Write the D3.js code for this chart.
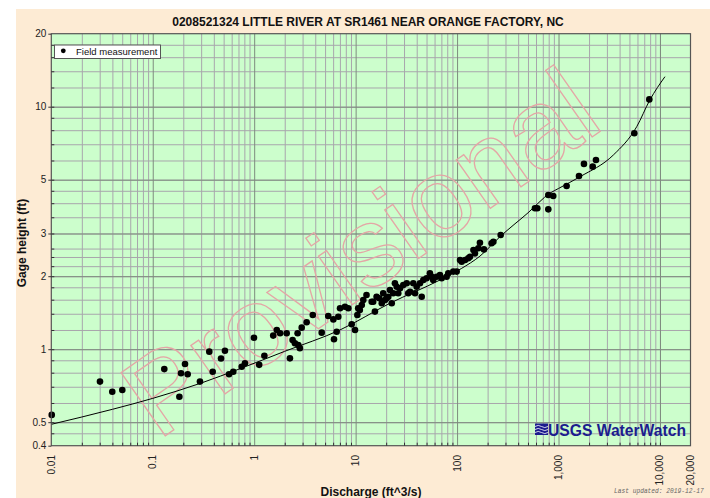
<!doctype html>
<html>
<head>
<meta charset="utf-8">
<title>Little River rating</title>
<script src="https://d3js.org/d3.v7.min.js"></script>
<style>
body { margin: 0; background: #fff; }
text { font-family: "Liberation Sans", Arial, sans-serif; }
</style>
</head>
<body>
<svg width="710" height="498"></svg>
<script>
// field measurements, discharge (ft^3/s) and gage height (ft)
var discharge = [0.0101, 0.0302, 0.0399, 0.0501, 0.13, 0.183, 0.19, 0.208, 0.221, 0.292,
    0.361, 0.39, 0.471, 0.515, 0.565, 0.622, 0.753, 0.811, 0.995, 1.12,
    1.26, 1.54, 1.67, 1.8, 2.09, 2.25, 2.39, 2.52, 2.68, 2.72,
    2.82, 2.94, 3.29, 3.78, 4.63, 5.37, 6.03, 6.5, 6.12, 6.75,
    7.02, 7.85, 8.47, 9.14, 9.86, 10.6, 10.4, 11.0, 11.5, 11.9,
    12.8, 14.4, 14.9, 15.5, 16.1, 17.1, 18.1, 18.7, 19.5, 20.2,
    21.0, 21.8, 22.7, 23.5, 24.4, 25.4, 26.3, 27.4, 29.5, 31.9,
    33.0, 34.4, 37.0, 38.5, 40, 43.1, 44.8, 46.5, 50.1, 54.0,
    56.2, 58.2, 63.0, 67.8, 70.5, 78.9, 81.9, 91.8, 99.1, 107,
    111, 120, 129, 134, 145, 150, 162, 168, 184, 219,
    228, 269, 586, 618, 793, 887, 793, 1202, 1592, 1782,
    2173, 2339, 5585, 7852]
var gage_height = [0.536, 0.735, 0.668, 0.679, 0.828, 0.637, 0.796, 0.869, 0.788, 0.735,
    0.977, 0.807, 0.916, 0.986, 0.788, 0.807, 0.847, 0.875, 1.115, 0.862,
    0.94, 1.138, 1.2, 1.163, 1.163, 0.917, 1.09, 1.058, 1.163, 1.04,
    1.01, 1.227, 1.291, 1.384, 1.17, 1.371, 1.327, 1.18, 1.099, 1.361,
    1.475, 1.497, 1.475, 1.267, 1.2, 1.475, 1.384, 1.45, 1.521, 1.596,
    1.674, 1.57, 1.57, 1.429, 1.646, 1.622, 1.546, 1.70, 1.596, 1.622,
    1.646, 1.754, 1.546, 1.70, 1.871, 1.81, 1.70, 1.783, 1.84, 1.871,
    1.70, 1.726, 1.871, 1.70, 1.81, 1.871, 1.646, 1.929, 1.961, 2.056,
    1.99, 1.929, 1.99, 2.023, 1.961, 1.99, 2.056, 2.089, 2.089, 2.333,
    2.296, 2.333, 2.37, 2.407, 2.564, 2.485, 2.607, 2.747, 2.58, 2.736,
    2.774, 2.958, 3.811, 3.811, 4.325, 4.285, 3.774, 4.71, 5.18, 5.81,
    5.66, 6.03, 7.77, 10.72]

// rating curve
var rating_q = [0.01, 0.04, 0.1, 0.3, 0.72, 2, 7, 22, 68, 110, 168, 265, 500, 824, 1000, 1625, 3470, 5900, 7950, 11200]
var rating_h = [0.49, 0.565, 0.627, 0.725, 0.83, 0.98, 1.2, 1.55, 1.93, 2.15, 2.42, 2.91, 3.65, 4.4, 4.6, 5.14, 6.32, 8.27, 10.66, 13.3]

// axis ticks
var x_labels = [0.01, 0.1, 1, 10, 100, 1000, 10000, 20000]
var x_label_text = ["0.01", "0.1", "1", "10", "100", "1,000", "10,000", "20,000"]
var y_labels = [0.4, 0.5, 1, 2, 3, 5, 10, 20]
var y_grid = [0.45, 0.5, 0.6, 0.7, 0.8, 0.9, 1, 1.2, 1.4, 1.6, 1.8, 2, 2.2, 2.4, 2.6, 3, 3.5,
    4, 4.5, 5, 6, 7, 8, 9, 10, 12, 14, 16, 18]

var svg = d3.select("svg")
var plot_left = 51.3, plot_right = 690.5, plot_top = 33.7, plot_bottom = 445.7
var plot_h = plot_bottom - plot_top, plot_w = plot_right - plot_left

var x = d3.scaleLog().domain([0.01, 20000]).range([plot_left, plot_right])
var y = d3.scaleLog().domain([0.4, 20]).range([plot_bottom, plot_top])

var x_grid = []
for (var k = -2; k <= 3; k++) {
    for (var m = 2; m <= 9; m++) x_grid.push(m * Math.pow(10, k))
}
x_grid.push(10000)
var x_major = [0.1, 1, 10, 100, 1000, 10000]
var y_major = [0.5, 1, 2, 3, 5, 10]

// backgrounds
svg.append("rect").attr("x", 16).attr("y", 9).attr("width", 694).attr("height", 489)
    .attr("fill", "#fdebd4")
svg.append("rect").attr("x", plot_left).attr("y", plot_top)
    .attr("width", plot_w).attr("height", plot_h).attr("fill", "#ccfecc")

function x_lines(vals, color) {
    svg.append("g").attr("transform", "translate(0," + plot_bottom + ")")
        .call(d3.axisBottom(x).tickValues(vals).tickSize(-plot_h).tickFormat(""))
        .call(function (g) { g.select(".domain").remove() })
        .selectAll("line").attr("stroke", color)
}
function y_lines(vals, color) {
    svg.append("g").attr("transform", "translate(" + plot_left + ",0)")
        .call(d3.axisLeft(y).tickValues(vals).tickSize(-plot_w).tickFormat(""))
        .call(function (g) { g.select(".domain").remove() })
        .selectAll("line").attr("stroke", color)
}
x_lines(x_grid, "#a8a6ac")
y_lines(y_grid, "#a8a6ac")
x_lines(x_major, "#7e8c7e")
y_lines(y_major, "#7e8c7e")

// watermark
svg.append("text")
    .attr("transform", "translate(382,284) rotate(-35)")
    .attr("text-anchor", "middle")
    .attr("font-size", "112px")
    .attr("fill", "none").attr("stroke", "#e4a6a6").attr("stroke-width", 1.3)
    .text("Provisional")

// rating curve
var line = d3.line()
    .x(function (d) { return x(d[0]) })
    .y(function (d) { return y(d[1]) })
    .curve(d3.curveMonotoneX)
svg.append("path")
    .datum(d3.zip(rating_q, rating_h))
    .attr("d", line)
    .attr("fill", "none").attr("stroke", "#000").attr("stroke-width", 1)

svg.selectAll(".pt")
    .data(d3.zip(discharge, gage_height))
    .enter().append("circle")
    .attr("cx", function (d) { return x(d[0]) })
    .attr("cy", function (d) { return y(d[1]) })
    .attr("r", 3.3)
    .attr("fill", "#000")

// frame
svg.append("rect").attr("x", plot_left).attr("y", plot_top)
    .attr("width", plot_w).attr("height", plot_h)
    .attr("fill", "none").attr("stroke", "#555").attr("stroke-width", 1.2)

// inner tick marks
svg.append("g").attr("transform", "translate(0," + plot_bottom + ")")
    .call(d3.axisBottom(x).tickValues(x_grid).tickSize(-3).tickFormat(""))
    .call(function (g) { g.select(".domain").remove() })
    .selectAll("line").attr("stroke", "#333")
svg.append("g").attr("transform", "translate(" + plot_left + ",0)")
    .call(d3.axisLeft(y).tickValues(y_grid).tickSize(-3).tickFormat(""))
    .call(function (g) { g.select(".domain").remove() })
    .selectAll("line").attr("stroke", "#333")

// labelled ticks
var ya = svg.append("g").attr("transform", "translate(" + plot_left + ",0)")
    .call(d3.axisLeft(y).tickValues(y_labels).tickSize(3).tickPadding(2)
        .tickFormat(function (d) { return String(d) }))
ya.select(".domain").remove()
ya.selectAll("line").attr("stroke", "#333")
ya.selectAll("text").attr("font-size", "10px").attr("fill", "#222")
    .style("font-family", "'Liberation Sans', Arial, sans-serif")

svg.selectAll(".xl")
    .data(x_labels)
    .enter().append("text")
    .attr("transform", function (d) { return "translate(" + x(d) + ",455) rotate(-90)" })
    .attr("text-anchor", "end").attr("dy", "0.35em")
    .attr("font-size", "10px").attr("fill", "#222")
    .text(function (d, i) { return x_label_text[i] })

// titles
svg.append("text")
    .attr("x", 368).attr("y", 25.5)
    .attr("text-anchor", "middle").attr("font-size", "12px").attr("font-weight", "bold")
    .attr("fill", "#111")
    .text("0208521324 LITTLE RIVER AT SR1461 NEAR ORANGE FACTORY, NC")
svg.append("text")
    .attr("transform", "translate(26,243) rotate(-90)")
    .attr("text-anchor", "middle").attr("font-size", "12px").attr("font-weight", "bold")
    .attr("fill", "#111")
    .text("Gage height (ft)")
svg.append("text")
    .attr("x", 371).attr("y", 495.5)
    .attr("text-anchor", "middle").attr("font-size", "12px").attr("font-weight", "bold")
    .attr("fill", "#111")
    .text("Discharge (ft^3/s)")
svg.append("text")
    .attr("transform", "translate(614,493) scale(0.78,1)")
    .attr("font-size", "8px").attr("font-style", "italic").attr("fill", "#666")
    .style("font-family", "'Liberation Mono', 'DejaVu Sans Mono', monospace")
    .text("Last updated: 2019-12-17")

// legend
svg.append("rect").attr("x", 54.5).attr("y", 45).attr("width", 106).attr("height", 13.5)
    .attr("fill", "#fff").attr("stroke", "#555").attr("stroke-width", 1)
svg.append("circle").attr("cx", 63.3).attr("cy", 50.8).attr("r", 2.4).attr("fill", "#000")
svg.append("text").attr("x", 76).attr("y", 54.7)
    .attr("font-size", "9.5px").attr("fill", "#111")
    .text("Field measurement")

// USGS WaterWatch logo
var logo = svg.append("g")
logo.append("rect").attr("x", 535).attr("y", 423.5).attr("width", 13).attr("height", 11.5)
    .attr("fill", "#1c1c8e")
var waves = [426.5, 429.5, 432.5]
waves.forEach(function (wy) {
    logo.append("path")
        .attr("d", "M535," + wy + " q3.2,-2.2 6.5,0 t6.5,0")
        .attr("fill", "none").attr("stroke", "#fff").attr("stroke-width", 0.8)
})
logo.append("text").attr("x", 548).attr("y", 435.5)
    .attr("font-size", "16px").attr("font-weight", "bold").attr("fill", "#1c1c8e")
    .attr("textLength", 138).attr("lengthAdjust", "spacingAndGlyphs")
    .text("USGS WaterWatch")
</script>
</body>
</html>
